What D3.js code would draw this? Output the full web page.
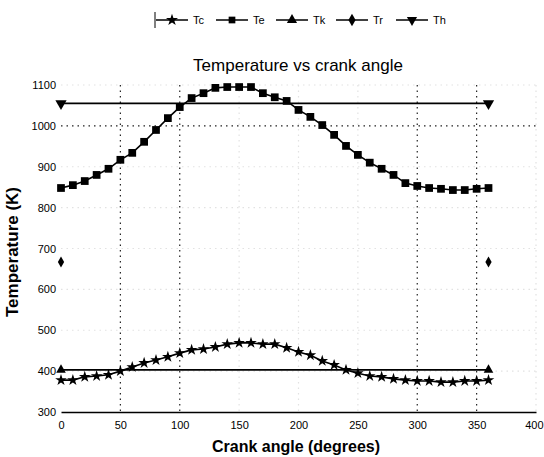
<!DOCTYPE html>
<html><head><meta charset="utf-8">
<script src="https://cdn.jsdelivr.net/npm/d3@7"></script>
<style>body{margin:0;background:#fff}svg{display:block}text{font-family:"Liberation Sans",Arial,sans-serif;fill:#000}</style>
</head><body><svg id="c" width="544" height="457"></svg>
<script>
const angles = d3.range(0, 361, 10);
const Tc = [378,378,386,388,391,400,410,420,427,435,444,452,454,459,466,469,469,466,466,457,447,439,425,415,403,395,388,386,381,378,376,376,373,373,376,376,378];
const Te = [848,855,865,880,895,917,934,961,990,1019,1046,1068,1080,1093,1095,1095,1095,1080,1070,1061,1039,1022,1002,978,951,929,910,895,880,860,853,848,846,843,843,846,848];
const endAngles = [0, 360];
const Tk = [403, 403];
const Tr = [667, 667];
const Th = [1055, 1055];
const seriesNames = ["Tc","Te","Tk","Tr","Th"];
const xTicks = [0,50,100,150,200,250,300,350,400];
const yTicks = [300,400,500,600,700,800,900,1000,1100];

const svg = d3.select("#c");
const x = d3.scaleLinear().domain([0,400]).range([61,536]);
const y = d3.scaleLinear().domain([300,1100]).range([412,85]);
const strongX = new Set([50,100,300,350]);
const strongY = new Set([1000]);

// gridlines
svg.append("g").selectAll("line").data(xTicks.filter(d=>d>0)).join("line")
  .attr("x1",d=>x(d)).attr("x2",d=>x(d)).attr("y1",y(1100)).attr("y2",y(300))
  .attr("stroke",d=>strongX.has(d)?"#222":"#e2e2e2").attr("stroke-width",1.2)
  .attr("stroke-dasharray","1.5,4");
svg.append("g").selectAll("line").data(yTicks.filter(d=>d>300)).join("line")
  .attr("x1",x(0)).attr("x2",x(400)).attr("y1",d=>y(d)).attr("y2",d=>y(d))
  .attr("stroke",d=>strongY.has(d)?"#222":"#e2e2e2").attr("stroke-width",1.2)
  .attr("stroke-dasharray","1.5,4");

// axes
const xa = svg.append("g").attr("transform",`translate(0,${y(300)})`)
  .call(d3.axisBottom(x).tickValues(xTicks).tickSize(0).tickPadding(9).tickFormat(d3.format("d")));
xa.select(".domain").attr("stroke","#000").attr("stroke-width",1.5);
xa.selectAll("text").attr("font-size",11).attr("fill","#000");
xa.selectAll(".tick").filter(d=>d===400).select("text").attr("text-anchor","end").attr("x",7);
const ya = svg.append("g").attr("transform",`translate(${x(0)},0)`)
  .call(d3.axisLeft(y).tickValues(yTicks).tickSize(0).tickPadding(5).tickFormat(d3.format("d")));
ya.select(".domain").remove();
ya.selectAll("text").attr("font-size",11).attr("fill","#000");

// series
const line = d3.line().x(d=>x(d[0])).y(d=>y(d[1]));
function drawSeries(xs, ys, sym, size, withLine, rot){
  const pts = xs.map((a,i)=>[a,ys[i]]);
  if(withLine) svg.append("path").datum(pts).attr("d",line).attr("fill","none").attr("stroke","#000").attr("stroke-width",1.6);
  svg.append("g").selectAll("path").data(pts).join("path")
    .attr("transform",d=>`translate(${x(d[0])},${y(d[1])})`+(rot?" rotate(180)":""))
    .attr("d",d3.symbol().type(sym).size(size)).attr("fill","#000");
}
const syms = [d3.symbolStar, d3.symbolSquare, d3.symbolTriangle, d3.symbolDiamond, d3.symbolTriangle];
drawSeries(angles, Tc, syms[0], 42, true);
drawSeries(angles, Te, syms[1], 60, true);
drawSeries(endAngles, Tk, syms[2], 40, true);
drawSeries(endAngles, Tr, syms[3], 34, false);
drawSeries(endAngles, Th, syms[4], 55, true, true);

// title & labels
svg.append("text").attr("x",298).attr("y",71).attr("text-anchor","middle").attr("font-size",17).text("Temperature vs crank angle");
svg.append("text").attr("x",296).attr("y",452).attr("text-anchor","middle").attr("font-size",16).attr("font-weight","bold").text("Crank angle (degrees)");
svg.append("text").attr("transform","translate(18,252) rotate(-90)").attr("text-anchor","middle").attr("font-size",17).attr("font-weight","bold").text("Temperature (K)");

// legend
const lg = svg.append("g");
seriesNames.forEach((n,i)=>{
  const cx = 172 + i*60;
  const g = lg.append("g");
  g.append("line").attr("x1",cx-16).attr("x2",cx+16).attr("y1",20).attr("y2",20).attr("stroke","#000").attr("stroke-width",1.5);
  g.append("path").attr("transform",`translate(${cx},20)`+(i===4?" rotate(180)":""))
    .attr("d",d3.symbol().type(syms[i]).size(45)).attr("fill","#000");
  g.append("text").attr("x",cx+21).attr("y",24).attr("font-size",11).text(n);
});
lg.append("line").attr("x1",155).attr("x2",155).attr("y1",12).attr("y2",28).attr("stroke","#000");
</script></body></html>
